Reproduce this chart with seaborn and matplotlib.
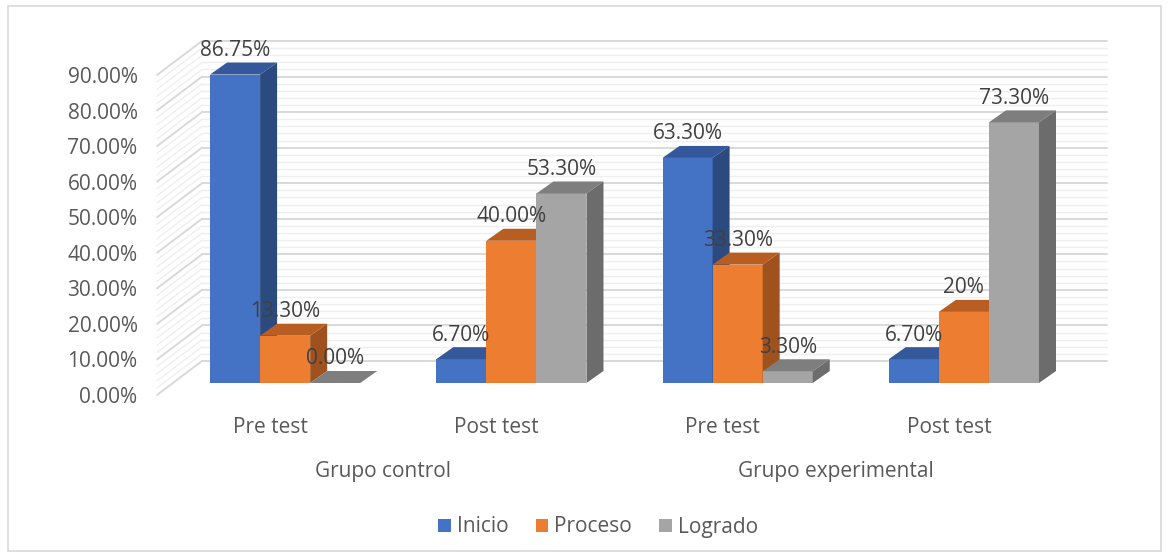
import numpy as np
import pandas as pd
import matplotlib
matplotlib.use("Agg")
import matplotlib.pyplot as plt
import matplotlib.transforms as mtransforms
from matplotlib.patches import Polygon, Patch, Rectangle
from matplotlib.lines import Line2D
import seaborn as sns

# datos
grupos = ["Grupo control", "Grupo experimental"]
momentos = ["Pre test", "Post test", "Pre test", "Post test"]
niveles = ["Inicio", "Proceso", "Logrado"]
inicio = [86.75, 6.70, 63.30, 6.70]
proceso = [13.30, 40.00, 33.30, 20.00]
logrado = [0.00, 53.30, 3.30, 73.30]
etiquetas_inicio = ["86.75%", "6.70%", "63.30%", "6.70%"]
etiquetas_proceso = ["13.30%", "40.00%", "33.30%", "20%"]
etiquetas_logrado = ["0.00%", "53.30%", "3.30%", "73.30%"]
yticks = [0, 10, 20, 30, 40, 50, 60, 70, 80, 90]

colores = ["#4472C4", "#ED7D31", "#A5A5A5"]
tapas = ["#34589A", "#B85E23", "#7E7E7E"]
lados = ["#2B4A7F", "#9F521D", "#6C6C6C"]

posiciones = ["p0", "p1", "p2", "p3"]
df = pd.DataFrame({
    "pos": posiciones * 3,
    "nivel": np.repeat(niveles, 4),
    "valor": inicio + proceso + logrado,
    "etiqueta": etiquetas_inicio + etiquetas_proceso + etiquetas_logrado,
})

sns.set_theme(style="white")
plt.rcParams["font.family"] = ["Open Sans", "DejaVu Sans"]

W, H = 1169, 557
fig = plt.figure(figsize=(W / 100, H / 100), dpi=100)
ax = fig.add_axes([157 / W, (H - 395) / H, 905 / W, 320 / H])

sns.barplot(data=df, x="pos", y="valor", hue="nivel", order=posiciones,
            hue_order=niveles, palette=colores, width=0.664, gap=0,
            saturation=1, errorbar=None, legend=False, ax=ax, linewidth=0)
ax.set_xlim(-0.5, 3.5)
ax.set_ylim(0, 90)
sns.despine(ax=ax, left=True, bottom=True)
ax.grid(False)
ax.set_xlabel("")
ax.set_ylabel("")

ident = mtransforms.IdentityTransform()

# paredes (fondo e izquierda) con lineas de cuadricula
dxw, dyw = 45, 34
xl = ax.transData.transform((-0.5, 0))[0]
xr = ax.transData.transform((3.5, 0))[0]
for v in np.arange(0, 90.1, 2):
    y = ax.transData.transform((0, v))[1]
    mayor = int(round(v)) % 10 == 0
    c = "#d9d9d9" if mayor else "#efefef"
    lw = 1.4 if mayor else 1.0
    ax.add_line(Line2D([xl + dxw, xr + dxw], [y + dyw, y + dyw], color=c, lw=lw,
                       transform=ident, clip_on=False, zorder=0.5))
    ax.add_line(Line2D([xl, xl + dxw], [y, y + dyw], color=c, lw=lw,
                       transform=ident, clip_on=False, zorder=0.5))

# barras con efecto 3D
bx, by = 15, 12
ddx, ddy = 17, 12
barras = []
for i, cont in enumerate(ax.containers):
    for j, p in enumerate(cont):
        barras.append((p.get_x(), i, j, p))
barras.sort(key=lambda t: t[0])

for k, (_, i, j, p) in enumerate(barras):
    z = 2 + 0.01 * k
    p.set_transform(ax.transData + mtransforms.Affine2D().translate(bx, by))
    p.set_clip_on(False)
    p.set_zorder(z)
    x0, y0 = ax.transData.transform((p.get_x(), 0))
    x1, y1 = ax.transData.transform((p.get_x() + p.get_width(), p.get_height()))
    x0, x1, y0, y1 = x0 + bx, x1 + bx, y0 + by, y1 + by
    top = Polygon([(x0, y1), (x1, y1), (x1 + ddx, y1 + ddy), (x0 + ddx, y1 + ddy)],
                  closed=True, facecolor=tapas[i], edgecolor="none",
                  transform=ident, clip_on=False, zorder=z + 0.005)
    side = Polygon([(x1, y0), (x1 + ddx, y0 + ddy), (x1 + ddx, y1 + ddy), (x1, y1)],
                   closed=True, facecolor=lados[i], edgecolor="none",
                   transform=ident, clip_on=False, zorder=z + 0.005)
    ax.add_patch(top)
    ax.add_patch(side)
    lab = df[(df["nivel"] == niveles[i]) & (df["pos"] == posiciones[j])]["etiqueta"].iloc[0]
    ax.text((x0 + x1) / 2, y1 + 24, lab, transform=ident, ha="center", va="center",
            fontsize=15, color="#404040", zorder=10, clip_on=False)

# ejes
ax.set_yticks(yticks)
ax.set_yticklabels([f"{v:.2f}%" for v in yticks])
ax.set_xticks(range(4))
ax.set_xticklabels(momentos)
ax.tick_params(axis="y", length=0, pad=14, labelsize=15, labelcolor="#595959")
ax.tick_params(axis="x", length=0, pad=16, labelsize=15, labelcolor="#595959")

blend = mtransforms.blended_transform_factory(ax.transData, ax.transAxes)
for g, xc in zip(grupos, [0.5, 2.5]):
    ax.text(xc, -(472 - 395) / 320, g, transform=blend, ha="center", va="center",
            fontsize=15, color="#595959")

handles = [Patch(facecolor=c, edgecolor="none", label=n) for c, n in zip(colores, niveles)]
fig.legend(handles=handles, loc="center", bbox_to_anchor=(598 / W, 1 - 527 / H),
           ncol=3, frameon=False, fontsize=15, handlelength=0.6, handleheight=0.6,
           handletextpad=0.3, columnspacing=1.3, labelcolor="#595959")

fig.patches.append(Rectangle((8 / W, 6 / H), (1161 - 8) / W, (551 - 6) / H,
                             transform=fig.transFigure, fill=False,
                             edgecolor="#d9d9d9", lw=1.2))

fig.savefig("out.png", dpi=100)
